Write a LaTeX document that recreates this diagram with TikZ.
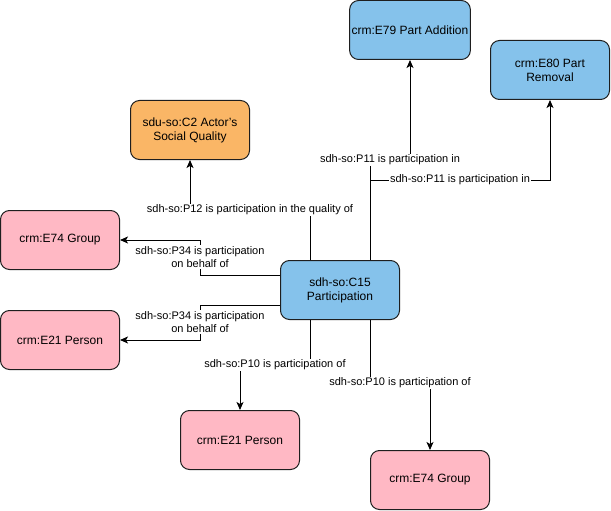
\documentclass[tikz,border=0pt]{standalone}
\usepackage{fontspec}
\setmainfont{Liberation Sans}
\usetikzlibrary{arrows.meta}
\definecolor{nblue}{RGB}{133,194,235}
\definecolor{norange}{RGB}{250,182,102}
\definecolor{npink}{RGB}{255,184,196}
\definecolor{nline}{RGB}{30,30,30}
\begin{document}
\begin{tikzpicture}[x=1pt,y=-1pt,
  cls/.style={draw=nline,line width=1pt,rounded corners=9pt,minimum width=119pt,minimum height=59pt,inner sep=2pt,align=center,font=\fontsize{12}{14}\selectfont},
  bluebox/.style={cls,fill=nblue},
  orangebox/.style={cls,fill=norange},
  pinkbox/.style={cls,fill=npink},
  arr/.style={draw=black,line width=1pt,-{Stealth[length=8pt,width=7pt,inset=2pt]}},
  lab/.style={fill=white,inner sep=1pt,align=center,font=\fontsize{11}{13.5}\selectfont}]
\useasboundingbox (0,0) rectangle (611,511);
\node[bluebox] (e79) at (410,30) {crm:E79 Part Addition};
\node[bluebox] (e80) at (550,70) {crm:E80 Part\\Removal};
\node[orangebox] (c2) at (190,130) {sdu-so:C2 Actor's\\Social Quality};
\node[pinkbox] (g1) at (60,240) {crm:E74 Group};
\node[bluebox] (c15) at (340,290) {sdh-so:C15\\Participation};
\node[pinkbox] (p1) at (60,340) {crm:E21 Person};
\node[pinkbox] (p2) at (240,440) {crm:E21 Person};
\node[pinkbox] (g2) at (430,480) {crm:E74 Group};
% edges
\draw[arr] ([xshift=30pt]c15.north) -- (370,160) -| (e79.south);
\draw[arr] ([xshift=30pt]c15.north) -- (370,180) -| (e80.south);
\draw[arr] ([xshift=-30pt]c15.north) -- (310,210) -| (c2.south);
\draw[arr] ([yshift=15pt]c15.west) -| (200,240) -- (g1.east);
\draw[arr] ([yshift=-15pt]c15.west) -| (200,340) -- (p1.east);
\draw[arr] ([xshift=-30pt]c15.south) -- (310,365) -| (p2.north);
\draw[arr] ([xshift=30pt]c15.south) -- (370,383) -| (g2.north);
% labels
\node[lab] (l1) at (390,160) {sdh-so:P11 is participation in};
\node[lab] (l2) at (460,180) {sdh-so:P11 is participation in};
\node[lab] (l3) at (250,210) {sdh-so:P12 is participation in the quality of};
\node[lab] (l4) at (200,257) {sdh-so:P34 is participation\\on behalf of};
\node[lab] (l5) at (200,322) {sdh-so:P34 is participation\\on behalf of};
\node[lab] (l6) at (275,365) {sdh-so:P10 is participation of};
\node[lab] (l7) at (400,383) {sdh-so:P10 is participation of};
\end{tikzpicture}
\end{document}
